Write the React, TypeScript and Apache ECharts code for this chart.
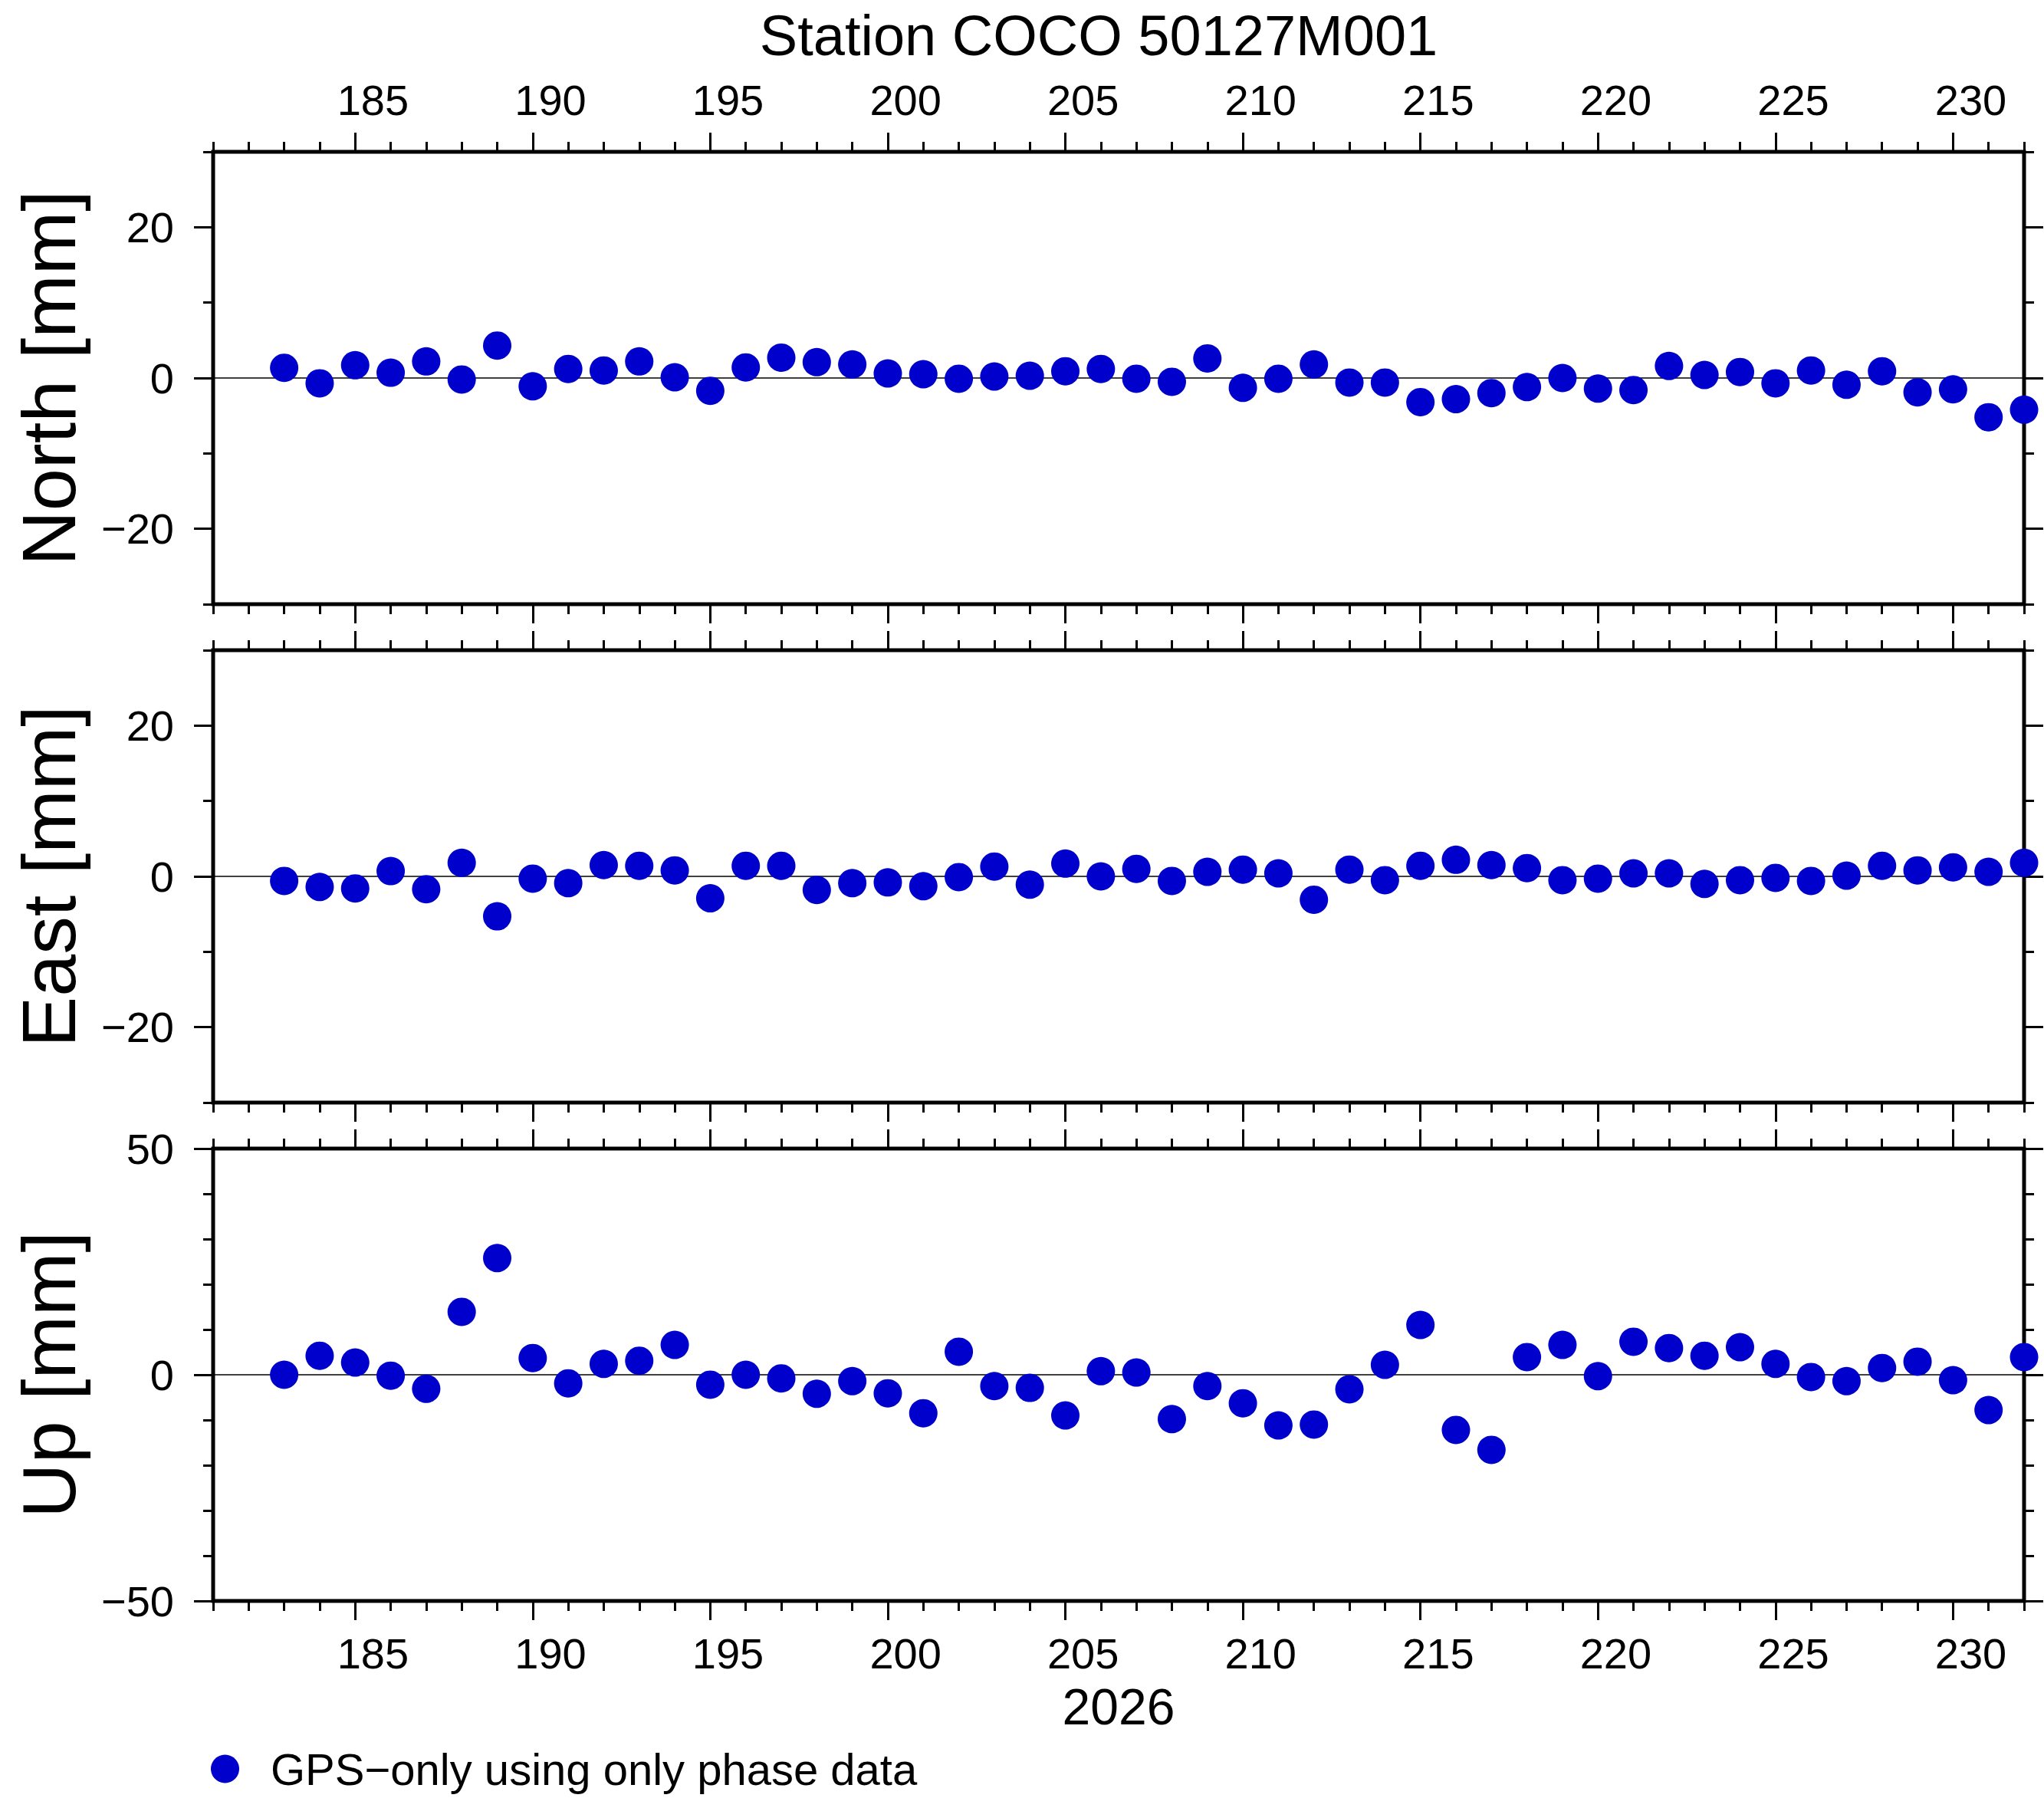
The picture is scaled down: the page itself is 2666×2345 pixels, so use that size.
import React, { useEffect, useRef } from 'react';
import * as echarts from 'echarts';

const titleText = 'Station COCO 50127M001';
const yearLabel = '2026';
const legendLabel = 'GPS\u2212only using only phase data';
const panelNames = ['North [mm]', 'East [mm]', 'Up [mm]'];

const days = [
  183, 184, 185, 186, 187, 188, 189, 190, 191, 192, 193, 194, 195, 196, 197, 198, 199, 200, 201, 202, 203, 204, 205, 206, 207,
  208, 209, 210, 211, 212, 213, 214, 215, 216, 217, 218, 219, 220, 221, 222, 223, 224, 225, 226, 227, 228, 229, 230, 231, 232,
];

const north = [
  1.35, -0.7, 1.7, 0.7, 2.2, -0.2, 4.3, -1.1, 1.2, 1.0, 2.2, 0.1, -1.7, 1.4, 2.7, 2.1, 1.8, 0.6, 0.5, -0.1, 0.2, 0.3, 0.9, 1.2, -0.1,
  -0.5, 2.6, -1.3, -0.1, 1.8, -0.6, -0.6, -3.2, -2.8, -2.0, -1.2, 0.0, -1.4, -1.6, 1.6, 0.4, 0.8, -0.7, 1.0, -0.9, 0.9, -1.9, -1.5, -5.2, -4.2,
];

const east = [
  -0.6, -1.4, -1.6, 0.7, -1.7, 1.8, -5.3, -0.3, -0.9, 1.5, 1.4, 0.8, -2.9, 1.4, 1.4, -1.8, -0.9, -0.8, -1.3, -0.1, 1.3, -1.1, 1.7, 0.0, 1.0,
  -0.6, 0.6, 0.9, 0.4, -3.1, 0.9, -0.5, 1.4, 2.2, 1.5, 1.1, -0.5, -0.3, 0.4, 0.4, -1.0, -0.5, -0.2, -0.6, 0.1, 1.4, 0.8, 1.2, 0.6, 1.8,
];

const up = [
  0.0, 4.2, 2.7, -0.2, -3.1, 13.9, 25.8, 3.7, -1.9, 2.4, 3.1, 6.6, -2.2, 0.0, -0.8, -4.2, -1.4, -4.1, -8.5, 5.1, -2.5, -2.9, -9.0, 0.8, 0.5,
  -9.8, -2.5, -6.3, -11.2, -11.0, -3.2, 2.2, 11.0, -12.2, -16.6, 3.9, 6.6, -0.3, 7.3, 5.9, 4.2, 6.1, 2.4, -0.5, -1.4, 1.5, 2.9, -1.2, -7.8, 3.9,
];

const xMin = 181;
const xMax = 232;
const xMajorTicks = [185, 190, 195, 200, 205, 210, 215, 220, 225, 230];
const xMinorTicks = [
  181, 182, 183, 184, 185, 186, 187, 188, 189, 190, 191, 192, 193, 194, 195, 196, 197, 198, 199, 200, 201, 202, 203, 204, 205, 206,
  207, 208, 209, 210, 211, 212, 213, 214, 215, 216, 217, 218, 219, 220, 221, 222, 223, 224, 225, 226, 227, 228, 229, 230, 231, 232,
];
const xLabelPositions = [185.5, 190.5, 195.5, 200.5, 205.5, 210.5, 215.5, 220.5, 225.5, 230.5];

const neRange = [-30, 30];
const neMajor = [-20, 0, 20];
const neMinor = [-30, -10, 10, 30];
const upRange = [-50, 50];
const upMajor = [-50, 0, 50];
const upMinor = [-40, -30, -20, -10, 10, 20, 30, 40];

const FONT = 'Liberation Sans, Arial, Helvetica, sans-serif';
const DOT = '#0000cc';

const fmtY = (v: number) => (v < 0 ? '\u2212' + Math.abs(v) : String(v));

export default function App() {
  const ref = useRef<HTMLDivElement>(null);

  useEffect(() => {
    document.body.style.margin = '0';
    document.body.style.overflow = 'hidden';
    if (!ref.current) return;
    const chart = echarts.init(ref.current, null, { renderer: 'svg' });

    const gridTops = [198, 848, 1498];
    const gridH = 590;
    const panels = [
      { vals: north, range: neRange, major: neMajor, minor: neMinor },
      { vals: east, range: neRange, major: neMajor, minor: neMinor },
      { vals: up, range: upRange, major: upMajor, minor: upMinor },
    ];

    const grids: any[] = [];
    const xAxes: any[] = [];
    const yAxes: any[] = [];
    const series: any[] = [];

    const tickStyle = { color: '#000', width: 3 };
    const labelStyle = { fontSize: 56, fontFamily: FONT, color: '#000' };

    panels.forEach((p, g) => {
      grids.push({
        left: 278,
        right: 26,
        top: gridTops[g],
        height: gridH,
        show: true,
        borderColor: '#000',
        borderWidth: 5,
        backgroundColor: 'transparent',
        containLabel: false,
        outerBoundsMode: 'none',
      });
      const xAx = (position: string, ticks: number[], len: number, labels: boolean, extra: any = {}) => ({
        type: 'value',
        gridIndex: g,
        position,
        min: xMin,
        max: xMax,
        axisLine: { show: false, onZero: false },
        axisTick: { show: true, inside: false, length: len, customValues: ticks, lineStyle: tickStyle },
        axisLabel: labels
          ? {
              show: true,
              customValues: xLabelPositions,
              formatter: (v: number) => String(Math.floor(v)),
              margin: 40,
              ...labelStyle,
            }
          : { show: false },
        splitLine: { show: false },
        ...extra,
      });
      const base = xAxes.length;
      xAxes.push(xAx('top', xMajorTicks, 25, g === 0));
      xAxes.push(xAx('top', xMinorTicks, 13, false));
      xAxes.push(
        xAx(
          'bottom',
          xMajorTicks,
          25,
          g === 2,
          g === 2
            ? {
                name: yearLabel,
                nameLocation: 'middle',
                nameGap: 105,
                nameTextStyle: { fontSize: 66, fontFamily: FONT, color: '#000' },
              }
            : {}
        )
      );
      xAxes.push(xAx('bottom', xMinorTicks, 13, false));

      const yAx = (position: string, ticks: number[], len: number, labels: boolean, extra: any = {}) => ({
        type: 'value',
        gridIndex: g,
        position,
        min: p.range[0],
        max: p.range[1],
        axisLine: { show: false, onZero: false },
        axisTick: { show: true, inside: false, length: len, customValues: ticks, lineStyle: tickStyle },
        axisLabel: labels
          ? { show: true, customValues: p.major, formatter: fmtY, margin: 51, ...labelStyle }
          : { show: false },
        splitLine: { show: false },
        ...extra,
      });
      const ybase = yAxes.length;
      yAxes.push(
        yAx('left', p.major, 25, true, {
          name: panelNames[g],
          nameLocation: 'middle',
          nameGap: 172,
          nameRotate: 90,
          nameTextStyle: { fontSize: 99, lineHeight: 86, fontFamily: FONT, color: '#000' },
        })
      );
      yAxes.push(yAx('left', p.minor, 13, false));
      yAxes.push(yAx('right', p.major, 25, false));
      yAxes.push(yAx('right', p.minor, 13, false));

      series.push({
        type: 'line',
        xAxisIndex: base,
        yAxisIndex: ybase,
        data: [
          [xMin, 0],
          [xMax, 0],
        ],
        symbol: 'none',
        silent: true,
        lineStyle: { color: '#000', width: 1.5 },
        z: 1,
      });
      series.push({
        name: legendLabel,
        type: 'scatter',
        xAxisIndex: base,
        yAxisIndex: ybase,
        data: days.map((d, i) => [d, p.vals[i]]),
        symbol: 'circle',
        symbolSize: 37,
        itemStyle: { color: DOT, opacity: 1 },
        clip: false,
        z: 3,
      });
    });

    chart.setOption({
      animation: false,
      backgroundColor: '#fff',
      grid: grids,
      xAxis: xAxes,
      yAxis: yAxes,
      series,
      legend: {
        data: [{ name: legendLabel, icon: 'circle', itemStyle: { color: DOT, opacity: 1 } }],
        left: 270,
        top: 2273,
        padding: 5,
        itemWidth: 37,
        itemHeight: 37,
        selectedMode: false,
        textStyle: { fontSize: 58, lineHeight: 56, fontFamily: FONT, color: '#000', padding: [0, 0, 0, 36] },
      },
      graphic: [
        {
          type: 'text',
          x: 1433,
          y: 46,
          style: {
            text: titleText,
            fontSize: 74,
            lineHeight: 60,
            fontFamily: FONT,
            fill: '#000',
            textAlign: 'center',
            textVerticalAlign: 'middle',
          },
        },
      ],
    });

    return () => {
      chart.dispose();
    };
  }, []);

  return <div ref={ref} style={{ width: 2666, height: 2345 }} />;
}
